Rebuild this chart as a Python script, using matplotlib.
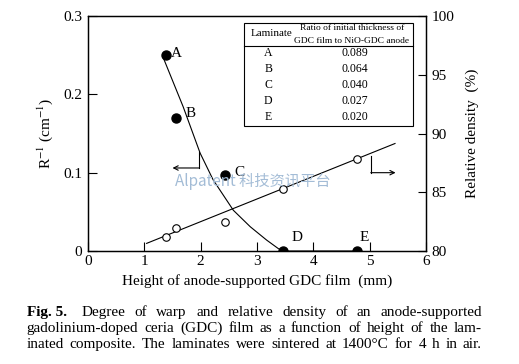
import matplotlib
matplotlib.use('Agg')
import matplotlib.pyplot as plt
from matplotlib.patches import Rectangle

plt.rcParams['font.family'] = ['Liberation Serif', 'DejaVu Serif']
plt.rcParams['mathtext.fontset'] = 'stix'

# data
laminates = ['A', 'B', 'C', 'D', 'E']
ratios = ['0.089', '0.064', '0.040', '0.027', '0.020']
height = [1.38, 1.56, 2.43, 3.47, 4.77]          # mm
warp = [0.25, 0.17, 0.097, 0.0, 0.0]             # R^-1 (cm^-1)
density = [81.2, 82.0, 82.5, 85.3, 87.8]         # relative density (%)

# hand-drawn guide curve for warp
curve_x = [1.34, 1.69, 1.99, 2.22, 2.58, 2.88, 3.17, 3.38, 3.47, 4.77]
curve_y = [0.246, 0.184, 0.125, 0.091, 0.052, 0.031, 0.014, 0.003, 0.0, 0.0]

# straight fit for density
fit_x = [1.04, 5.45]
fit_y = [80.65, 89.15]

# axis marker arrows (corner start, corner, tip)
left_arrow = [(1.975, 0.127), (1.975, 0.106), (1.50, 0.106)]
right_arrow = [(5.02, 0.121), (5.02, 0.100), (5.46, 0.100)]

fig = plt.figure(figsize=(5.19, 3.64), dpi=100)
ax = fig.add_axes([0.1696, 0.3104, 0.6512, 0.6456])
ax2 = ax.twinx()

ax.plot(curve_x, curve_y, color='black', lw=0.8)
ax.plot(height, warp, 'o', color='black', ms=6.5, zorder=5)
ax2.plot(fit_x, fit_y, color='black', lw=0.8)
ax2.plot(height, density, 'o', mfc='white', mec='black', mew=0.8, ms=5.4, zorder=5)

# point labels
offsets = [(4, 1), (7, 3), (7, 2), (6, 9.5), (2, 9.5)]
for lab, x, y, off in zip(laminates, height, warp, offsets):
    ax.annotate(lab, (x, y), xytext=off, textcoords='offset points',
                fontsize=11, va='center', ha='left')

# arrows pointing to the axes
for arr in (left_arrow, right_arrow):
    ax.plot([arr[0][0], arr[1][0]], [arr[0][1], arr[1][1]], color='black', lw=0.8)
    ax.annotate('', xy=arr[2], xytext=arr[1],
                arrowprops=dict(arrowstyle='->', lw=0.8, color='black',
                                shrinkA=0, shrinkB=0, mutation_scale=8))

ax.set_xlim(0, 6)
ax.set_ylim(0, 0.3)
ax2.set_ylim(80, 100)
ax.set_xticks([0, 1, 2, 3, 4, 5, 6])
ax.set_yticks([0, 0.1, 0.2, 0.3])
ax.set_yticklabels(['0', '0.1', '0.2', '0.3'])
ax2.set_yticks([80, 85, 90, 95, 100])

ax.tick_params(axis='both', direction='in', length=6.5, width=0.8, labelsize=11,
               right=False, top=False)
ax.tick_params(axis='y', pad=4)
ax.tick_params(axis='x', pad=3)
ax2.tick_params(axis='y', direction='in', length=6, width=0.8, labelsize=11, pad=4)
for a in (ax, ax2):
    for s in a.spines.values():
        s.set_linewidth(0.9)

ax.set_xlabel('Height of anode-supported GDC film  (mm)', fontsize=11, labelpad=4)
ax.set_ylabel(r'R$^{-1}$ (cm$^{-1}$)', fontsize=11, labelpad=6)
ax2.set_ylabel('Relative density  (%)', fontsize=11, labelpad=8)

# inset table
ax.add_patch(Rectangle((0.4615, 0.532), 0.4992, 0.439, transform=ax.transAxes,
                       fill=False, lw=0.8, zorder=6))
ax.plot([0.4615, 0.9607], [0.872, 0.872], transform=ax.transAxes, color='black', lw=0.8)
ax.text(0.544, 0.925, 'Laminate', transform=ax.transAxes, fontsize=8, ha='center', va='center')
ax.text(0.780, 0.950, 'Ratio of initial thickness of', transform=ax.transAxes,
        fontsize=6.8, ha='center', va='center')
ax.text(0.780, 0.895, 'GDC film to NiO-GDC anode', transform=ax.transAxes,
        fontsize=6.8, ha='center', va='center')
row_y = [0.841, 0.776, 0.706, 0.638, 0.571]
for lab, r, y in zip(laminates, ratios, row_y):
    ax.text(0.533, y, lab, transform=ax.transAxes, fontsize=8.5, ha='center', va='center')
    ax.text(0.790, y, r, transform=ax.transAxes, fontsize=8.5, ha='center', va='center')

# watermark
fig.text(0.338, 0.5, 'Alpatent 科技资讯平台', color='#a3bcd6', fontsize=11,
         family=['Noto Sans CJK SC', 'DejaVu Sans'], ha='left', va='center')

# justified caption
caption = [
    ['Degree', 'of', 'warp', 'and', 'relative', 'density', 'of', 'an', 'anode-supported'],
    ['gadolinium-doped', 'ceria', '(GDC)', 'film', 'as', 'a', 'function', 'of', 'height', 'of', 'the', 'lam-'],
    ['inated', 'composite.', 'The', 'laminates', 'were', 'sintered', 'at', '1400°C', 'for', '4', 'h', 'in', 'air.'],
]
base_y = [0.1319, 0.0879, 0.0448]
starts = [0.1574, 0.0514, 0.0514]
x_end = 0.9287
fig.text(0.0514, base_y[0], 'Fig. 5.', fontsize=11, weight='bold', va='baseline', ha='left')
fig.canvas.draw()
renderer = fig.canvas.get_renderer()
W = fig.bbox.width
for words, y, x0 in zip(caption, base_y, starts):
    texts = [fig.text(0, y, w, fontsize=11, va='baseline', ha='left') for w in words]
    widths = [t.get_window_extent(renderer).width / W for t in texts]
    gap = (x_end - x0 - sum(widths)) / (len(texts) - 1)
    x = x0
    for t, w in zip(texts, widths):
        t.set_x(x)
        x += w + gap

fig.savefig('out.png', dpi=100)
